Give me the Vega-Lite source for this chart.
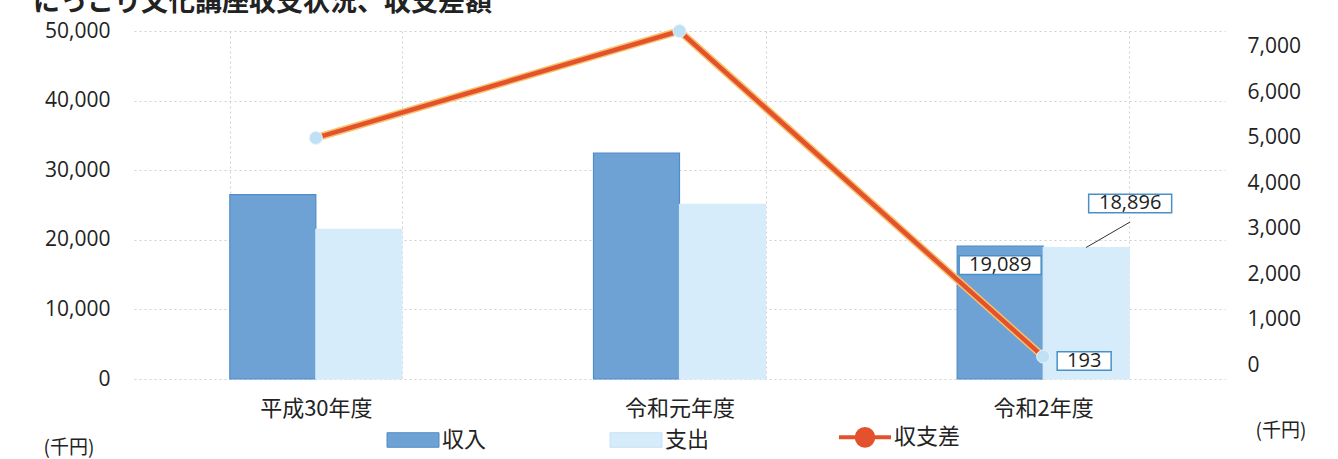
{
  "$schema": "https://vega.github.io/schema/vega-lite/v6.json",
  "width": 1091,
  "height": 348,
  "autosize": {"type": "none"},
  "padding": {"left": 134, "top": 31, "right": 113, "bottom": 80},
  "background": "white",
  "config": {"view": {"stroke": null}},
  "title": {
    "text": "にっこり文化講座収支状況、収支差額",
    "anchor": "start",
    "frame": "group",
    "dx": -101,
    "offset": -22,
    "baseline": "alphabetic",
    "font": "Noto Sans CJK JP",
    "fontSize": 27,
    "fontWeight": "bold",
    "color": "#222222"
  },
  "datasets": {
    "bars": [
      {"年度": "平成30年度", "系列": "収入", "金額": 26500},
      {"年度": "平成30年度", "系列": "支出", "金額": 21500},
      {"年度": "令和元年度", "系列": "収入", "金額": 32450},
      {"年度": "令和元年度", "系列": "支出", "金額": 25100},
      {"年度": "令和2年度", "系列": "収入", "金額": 19089},
      {"年度": "令和2年度", "系列": "支出", "金額": 18896}
    ],
    "diff": [
      {"年度": "平成30年度", "収支差": 5000},
      {"年度": "令和元年度", "収支差": 7350},
      {"年度": "令和2年度", "収支差": 193}
    ]
  },
  "layer": [
    {
      "data": {"name": "bars"},
      "layer": [
        {
          "mark": {"type": "bar", "strokeWidth": 1.2},
          "encoding": {
            "x": {
              "field": "年度", "type": "nominal",
              "sort": ["平成30年度", "令和元年度", "令和2年度"],
              "scale": {"paddingInner": 0.527, "paddingOuter": 0.2635},
              "axis": {
                "title": null, "labelAngle": 0, "labelFont": "Noto Sans CJK JP", "labelFontSize": 22,
                "labelColor": "#222222", "labelPadding": 19, "domain": false, "ticks": false,
                "grid": true, "tickBand": "extent", "gridColor": "#d0d0d0", "gridDash": [2, 3]
              }
            },
            "xOffset": {"field": "系列", "type": "nominal", "sort": ["収入", "支出"], "scale": {"paddingInner": 0}},
            "y": {
              "field": "金額", "type": "quantitative",
              "scale": {"domain": [0, 50000], "nice": false},
              "axis": {
                "values": [0, 10000, 20000, 30000, 40000, 50000], "format": ",d",
                "labelFont": "Open Sans", "labelFontSize": 21, "labelColor": "#222222",
                "labelPadding": 24, "domain": false, "ticks": false,
                "grid": true, "gridColor": "#d0d0d0", "gridDash": [2, 3],
                "title": "(千円)", "titleAngle": 0, "titleX": -91, "titleY": 416,
                "titleAlign": "left", "titleBaseline": "middle", "titleFont": "Noto Sans CJK JP",
                "titleFontSize": 19, "titleFontWeight": "normal", "titleColor": "#222222"
              }
            },
            "color": {
              "field": "系列", "type": "nominal",
              "scale": {"domain": ["収入", "支出", "収支差"], "range": ["#6fa2d4", "#d7ecfa", "#e4522d"]},
              "legend": {
                "orient": "none", "legendX": 268, "legendY": 395, "direction": "horizontal",
                "title": null, "labelFont": "Noto Sans CJK JP", "labelFontSize": 22, "labelColor": "#222222",
                "symbolSize": 2704, "columnPadding": 121, "labelOffset": 18,
                "encode": {
                  "symbols": {
                    "update": {
                      "shape": {"signal": "datum.value === '収支差' ? 'M-1,0H-0.32M0.32,0H1M0.32,0A0.32,0.32 0 1 1 -0.32,0A0.32,0.32 0 1 1 0.32,0Z' : 'M-1,-0.28H1V0.28H-1Z'"},
                      "fill": {"signal": "datum.value === '収入' ? '#6fa2d4' : datum.value === '支出' ? '#d7ecfa' : '#bfe0f5'"},
                      "stroke": {"signal": "datum.value === '収入' ? '#4f8cc9' : datum.value === '支出' ? '#c5e2f6' : '#e4522d'"},
                      "strokeWidth": {"signal": "datum.value === '収支差' ? 4 : 1"},
                      "opacity": {"value": 1}
                    }
                  }
                }
              }
            },
            "stroke": {
              "field": "系列", "type": "nominal",
              "scale": {"domain": ["収入", "支出"], "range": ["#4f8cc9", "#d7ecfa"]},
              "legend": null
            }
          }
        },
        {
          "transform": [{"filter": "datum['年度'] === '令和2年度' && datum['系列'] === '支出'"}],
          "mark": {"type": "point", "shape": "M0,0L0.88,-0.51", "size": 10000, "filled": false, "stroke": "#333333", "strokeWidth": 1, "opacity": 1, "xOffset": 43},
          "encoding": {
            "x": {"field": "年度", "type": "nominal", "sort": ["平成30年度", "令和元年度", "令和2年度"]},
            "y": {"field": "金額", "type": "quantitative"}
          }
        },
        {
          "transform": [{"filter": "datum['年度'] === '令和2年度' && datum['系列'] === '収入'"}],
          "mark": {"type": "point", "shape": "M-1,-0.226H1V0.226H-1Z", "size": 6724, "filled": true, "fill": "white", "stroke": "#4a90c8", "strokeWidth": 1.5, "opacity": 1, "xOffset": -43, "yOffset": 19},
          "encoding": {
            "x": {"field": "年度", "type": "nominal", "sort": ["平成30年度", "令和元年度", "令和2年度"]},
            "y": {"field": "金額", "type": "quantitative"}
          }
        },
        {
          "transform": [{"filter": "datum['年度'] === '令和2年度' && datum['系列'] === '収入'"}],
          "mark": {"type": "text", "font": "Open Sans", "fontSize": 20, "color": "#222222", "xOffset": -43, "yOffset": 19, "baseline": "middle"},
          "encoding": {
            "x": {"field": "年度", "type": "nominal", "sort": ["平成30年度", "令和元年度", "令和2年度"]},
            "y": {"field": "金額", "type": "quantitative"},
            "text": {"field": "金額", "type": "quantitative", "format": ",d"}
          }
        },
        {
          "transform": [{"filter": "datum['年度'] === '令和2年度' && datum['系列'] === '支出'"}],
          "mark": {"type": "point", "shape": "M-1,-0.223H1V0.223H-1Z", "size": 6889, "filled": true, "fill": "white", "stroke": "#4a90c8", "strokeWidth": 1.5, "opacity": 1, "xOffset": 87, "yOffset": -44},
          "encoding": {
            "x": {"field": "年度", "type": "nominal", "sort": ["平成30年度", "令和元年度", "令和2年度"]},
            "y": {"field": "金額", "type": "quantitative"}
          }
        },
        {
          "transform": [{"filter": "datum['年度'] === '令和2年度' && datum['系列'] === '支出'"}],
          "mark": {"type": "text", "font": "Open Sans", "fontSize": 20, "color": "#222222", "xOffset": 87, "yOffset": -44, "baseline": "middle"},
          "encoding": {
            "x": {"field": "年度", "type": "nominal", "sort": ["平成30年度", "令和元年度", "令和2年度"]},
            "y": {"field": "金額", "type": "quantitative"},
            "text": {"field": "金額", "type": "quantitative", "format": ",d"}
          }
        }
      ]
    },
    {
      "data": {"name": "diff"},
      "layer": [
        {
          "mark": {"type": "line", "color": "#f6c26a", "strokeWidth": 7.5},
          "encoding": {
            "x": {"field": "年度", "type": "nominal", "sort": ["平成30年度", "令和元年度", "令和2年度"]},
            "y": {
              "field": "収支差", "type": "quantitative",
              "scale": {"domain": [-300, 7350], "nice": false, "zero": false},
              "axis": {
                "orient": "right", "values": [0, 1000, 2000, 3000, 4000, 5000, 6000, 7000], "format": ",d",
                "labelFont": "Open Sans", "labelFontSize": 21, "labelColor": "#222222",
                "labelPadding": 22, "domain": false, "ticks": false, "grid": false,
                "title": "(千円)", "titleAngle": 0, "titleX": 30, "titleY": 399,
                "titleAlign": "left", "titleBaseline": "middle", "titleFont": "Noto Sans CJK JP",
                "titleFontSize": 19, "titleFontWeight": "normal", "titleColor": "#222222"
              }
            }
          }
        },
        {
          "mark": {"type": "line", "color": "#e4522d", "strokeWidth": 4.5},
          "encoding": {
            "x": {"field": "年度", "type": "nominal", "sort": ["平成30年度", "令和元年度", "令和2年度"]},
            "y": {"field": "収支差", "type": "quantitative"}
          }
        },
        {
          "mark": {"type": "point", "filled": true, "fill": "#bfe0f5", "stroke": "#e8f4fb", "strokeWidth": 1, "size": 170, "opacity": 1},
          "encoding": {
            "x": {"field": "年度", "type": "nominal", "sort": ["平成30年度", "令和元年度", "令和2年度"]},
            "y": {"field": "収支差", "type": "quantitative"}
          }
        },
        {
          "transform": [{"filter": "datum['年度'] === '令和2年度'"}],
          "mark": {"type": "point", "shape": "M-1,-0.343H1V0.343H-1Z", "size": 2916, "filled": true, "fill": "white", "stroke": "#4a90c8", "strokeWidth": 1.5, "opacity": 1, "xOffset": 41, "yOffset": 4.5},
          "encoding": {
            "x": {"field": "年度", "type": "nominal", "sort": ["平成30年度", "令和元年度", "令和2年度"]},
            "y": {"field": "収支差", "type": "quantitative"}
          }
        },
        {
          "transform": [{"filter": "datum['年度'] === '令和2年度'"}],
          "mark": {"type": "text", "font": "Open Sans", "fontSize": 20, "color": "#222222", "xOffset": 41, "yOffset": 4.5, "baseline": "middle"},
          "encoding": {
            "x": {"field": "年度", "type": "nominal", "sort": ["平成30年度", "令和元年度", "令和2年度"]},
            "y": {"field": "収支差", "type": "quantitative"},
            "text": {"field": "収支差", "type": "quantitative", "format": ",d"}
          }
        }
      ]
    }
  ],
  "resolve": {"scale": {"y": "independent", "stroke": "independent"}}
}
